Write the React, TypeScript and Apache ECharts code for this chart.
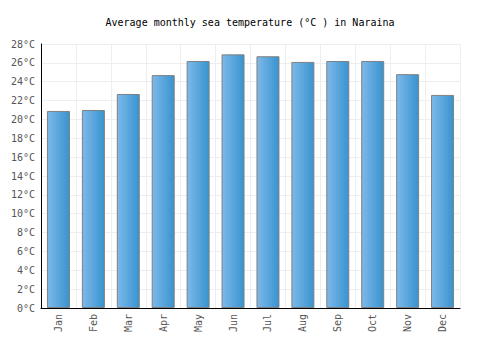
import React, { useEffect, useRef } from "react";
import * as echarts from "echarts";

const months = ["Jan", "Feb", "Mar", "Apr", "May", "Jun", "Jul", "Aug", "Sep", "Oct", "Nov", "Dec"];
const seaTemp = [20.9, 21.0, 22.7, 24.7, 26.2, 26.9, 26.7, 26.1, 26.2, 26.2, 24.8, 22.6];
const titleText = "Average monthly sea temperature (°C ) in Naraina";

export default function App() {
  const ref = useRef<HTMLDivElement>(null);
  useEffect(() => {
    if (!ref.current) return;
    const chart = echarts.init(ref.current, null, { renderer: "svg" });
    const font = "'DejaVu Sans Mono', monospace";
    chart.setOption({
      animation: false,
      backgroundColor: "#ffffff",
      title: {
        text: titleText,
        left: "center",
        top: 12,
        textStyle: { fontFamily: font, fontSize: 10, fontWeight: "normal", color: "#000" },
      },
      grid: { left: 41, right: 40, top: 44, bottom: 42, containLabel: false },
      xAxis: {
        type: "category",
        data: months,
        axisLine: { lineStyle: { color: "#000", width: 1 } },
        axisTick: { show: false },
        axisLabel: { rotate: 90, color: "#555", fontFamily: font, fontSize: 10, margin: 6 },
        splitLine: { show: true, lineStyle: { color: "#eeeeee" } },
      },
      yAxis: {
        type: "value",
        min: 0,
        max: 28,
        interval: 2,
        axisLine: { show: true, lineStyle: { color: "#000", width: 1 } },
        axisTick: { show: false },
        axisLabel: { formatter: "{value}°C", color: "#555", fontFamily: font, fontSize: 10, margin: 6 },
        splitLine: { show: true, lineStyle: { color: "#eeeeee" } },
      },
      series: [
        {
          type: "bar",
          data: seaTemp,
          barWidth: 23,
          itemStyle: {
            color: new echarts.graphic.LinearGradient(0, 0, 1, 0, [
              { offset: 0, color: "#7db9ea" },
              { offset: 1, color: "#3893cf" },
            ]),
            borderColor: "#808080",
            borderWidth: 1,
          },
        },
      ],
    });
    return () => chart.dispose();
  }, []);
  return <div ref={ref} style={{ width: 500, height: 350, margin: -8 }} />;
}
